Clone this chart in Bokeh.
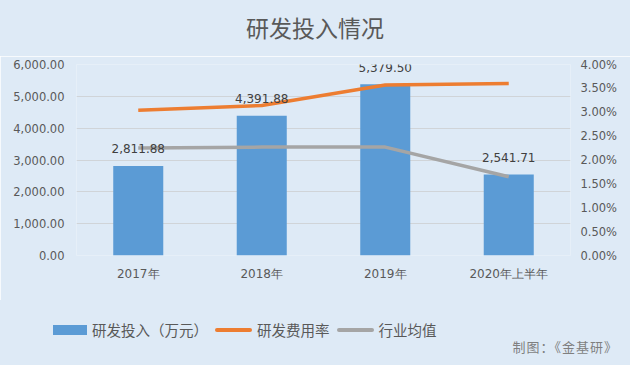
from bokeh.plotting import figure
from bokeh.layouts import column
from bokeh.models import (FactorRange, Range1d, LinearAxis, FixedTicker, NumeralTickFormatter,
                          Div, ColumnDataSource)
from bokeh.core.properties import value
from bokeh.embed import file_html
from bokeh.resources import INLINE

categories = ["2017年", "2018年", "2019年", "2020年上半年"]
rd_invest = [2811.88, 4391.88, 5379.50, 2541.71]          # 万元
rd_rate = [0.0304, 0.0314, 0.0357, 0.0360]                # 研发费用率
industry_avg = [0.0225, 0.0227, 0.0227, 0.0165]           # 行业均值
left_ticks = [0, 1000, 2000, 3000, 4000, 5000, 6000]
right_ticks = [0, 0.005, 0.01, 0.015, 0.02, 0.025, 0.03, 0.035, 0.04]
series_names = ["研发投入（万元）", "研发费用率", "行业均值"]
series_colors = ["#5B9BD5", "#ED7D31", "#A5A5A5"]
title_text = "研发投入情况"
credit_text = "制图：《金基研》"

BG = "#DEEAF6"
TXT = "#595959"
NUM_FONT = "DejaVu Sans"
CJK_FONT = "Noto Sans CJK SC"

src = ColumnDataSource(dict(
    cat=categories, inv=rd_invest, rate=rd_rate, avg=industry_avg,
    lbl=[f"{v:,.2f}" for v in rd_invest],
))

# title strip (HTML)
top = Div(text=(f'<div style="width:630px;height:56px;background:{BG};position:relative;">'
                f'<div style="position:absolute;left:0;width:630px;top:12px;text-align:center;'
                f"font-family:'{CJK_FONT}';font-size:23px;line-height:30px;color:{TXT};\">"
                f'{title_text}</div></div>'),
          width=630, height=56, margin=0, styles={"background-color": BG})

p = figure(width=630, height=244, x_range=FactorRange(*categories), y_range=Range1d(0, 6000),
           output_backend="svg", toolbar_location=None,
           background_fill_color=BG, border_fill_color=BG, outline_line_color=None,
           min_border_left=76, min_border_right=60, min_border_top=8, min_border_bottom=45)
p.extra_y_ranges = {"pct": Range1d(0, 0.04)}

# axes
ya = p.yaxis[0]
ya.ticker = FixedTicker(ticks=left_ticks)
ya.formatter = NumeralTickFormatter(format="0,0.00")
ya.axis_line_color = None
ya.major_tick_line_color = None
ya.minor_tick_line_color = None
ya.major_label_standoff = 6
ya.major_label_text_font = NUM_FONT
ya.major_label_text_font_size = "11.5px"
ya.major_label_text_color = TXT

raxis = LinearAxis(y_range_name="pct", ticker=FixedTicker(ticks=right_ticks),
                   formatter=NumeralTickFormatter(format="0.00%"))
raxis.axis_line_color = None
raxis.major_tick_line_color = None
raxis.minor_tick_line_color = None
raxis.major_label_standoff = 4
raxis.major_label_text_font = NUM_FONT
raxis.major_label_text_font_size = "11.5px"
raxis.major_label_text_color = TXT
p.add_layout(raxis, "right")

xa = p.xaxis[0]
xa.axis_line_color = None
xa.major_tick_line_color = None
xa.minor_tick_line_color = None
xa.major_label_standoff = 5
xa.major_label_text_font = NUM_FONT
xa.major_label_text_font_size = "12px"
xa.major_label_text_color = TXT

p.xgrid.grid_line_color = None
p.ygrid.grid_line_color = "#D0D4D8"
p.ygrid.grid_line_width = 1

# glyphs
p.vbar(x="cat", top="inv", width=0.405, source=src, fill_color=series_colors[0], line_color=None)
p.line(x="cat", y="rate", source=src, y_range_name="pct", line_color=series_colors[1], line_width=3.5)
p.line(x="cat", y="avg", source=src, y_range_name="pct", line_color=series_colors[2], line_width=3.5)

p.text(x="cat", y="inv", text="lbl", source=src, y_offset=-17, text_align="center",
       text_baseline="middle", text_font=value(NUM_FONT), text_font_size="12px", text_color="#404040")

# bottom strip: legend + credit (HTML)
swatch_styles = [
    "display:inline-block;width:34px;height:10px;",
    "display:inline-block;width:37px;height:4px;border-radius:2px;",
    "display:inline-block;width:37px;height:4px;border-radius:2px;",
]
parts = []
for i, (name, col) in enumerate(zip(series_names, series_colors)):
    gap = "" if i == 0 else "margin-left:7px;"
    parts.append(f'<span style="{swatch_styles[i]}background:{col};{gap}"></span>'
                 f'<span style="margin-left:5px">{name}</span>')
legend_html = (
    f'<div style="position:relative;width:630px;height:65px;background:{BG};'
    f"font-family:'{CJK_FONT}';\">"
    f'<div style="position:absolute;left:53px;top:21px;height:18px;display:flex;align-items:center;'
    f'font-size:14.5px;line-height:18px;color:{TXT};white-space:nowrap">{"".join(parts)}</div>'
    f'<div style="position:absolute;right:12px;top:39px;font-size:13px;letter-spacing:1px;line-height:16px;'
    f'color:#7F7F7F;white-space:nowrap">{credit_text}</div>'
    '</div>'
)
q = Div(text=legend_html, width=630, height=65, margin=0, styles={"background-color": BG})

layout = column(top, p, q, spacing=0)
open("out.html", "w").write(file_html(layout, INLINE))
